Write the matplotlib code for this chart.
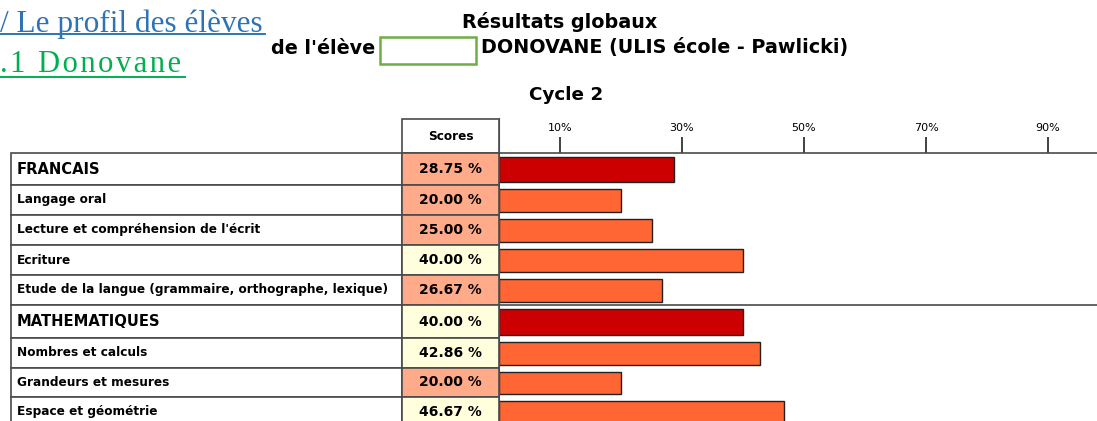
import matplotlib.pyplot as plt
from matplotlib.patches import Rectangle

plt.rcParams['font.family'] = ['DejaVu Sans']

# data
labels = ["FRANCAIS", "Langage oral", "Lecture et compréhension de l'écrit", "Ecriture",
          "Etude de la langue (grammaire, orthographe, lexique)", "MATHEMATIQUES",
          "Nombres et calculs", "Grandeurs et mesures", "Espace et géométrie"]
scores = [28.75, 20.00, 25.00, 40.00, 26.67, 40.00, 42.86, 20.00, 46.67]
is_section = [True, False, False, False, False, True, False, False, False]
tick_vals = [10, 30, 50, 70, 90]
tick_labels = ["10%", "30%", "50%", "70%", "90%"]

# layout (pixels)
W, H = 1097, 421
row_edges = [153, 185, 215, 245, 275, 305, 338, 368, 397, 427]
x_left, x_score, x_bar = 11, 402, 499
px_per_pct = 6.1
grid = '#4a4a4a'

fig = plt.figure(figsize=(W / 100, H / 100), dpi=100)
ax = fig.add_axes([0, 0, 1, 1])
ax.set_xlim(0, W)
ax.set_ylim(H, 0)
ax.axis('off')

# headings on the left
serif = ['Liberation Serif', 'DejaVu Serif']
ax.text(0, 32, "/ Le profil des élèves", family=serif, fontsize=22.5,
        color='#2E74B5', va='baseline', ha='left')
ax.plot([0, 265], [34, 34], color='#2E74B5', lw=1.4)
ax.text(0, 72, "\u200a".join(".1 Donovane"), family=serif, fontsize=22,
        color='#00B050', va='baseline', ha='left')
ax.plot([0, 185], [77, 77], color='#00B050', lw=1.4)

# titles
ax.text(560, 22, "Résultats globaux", fontsize=13.8, fontweight='bold', ha='center', va='center')
ax.text(375, 48, "de l'élève", fontsize=13.8, fontweight='bold', ha='right', va='center')
ax.add_patch(Rectangle((380, 37), 96, 27, fill=False, edgecolor='#70AD47', lw=1.8))
ax.text(481, 48, "DONOVANE (ULIS école - Pawlicki)", fontsize=13.8, fontweight='bold',
        ha='left', va='center')
ax.text(566, 95, "Cycle 2", fontsize=13.2, fontweight='bold', ha='center', va='center')

# header cell
ax.add_patch(Rectangle((x_score, 119), x_bar - x_score, row_edges[0] - 119,
                       facecolor='white', edgecolor=grid, lw=1.2))
ax.text((x_score + x_bar) / 2, 136, "Scores", fontsize=8.7, fontweight='bold',
        ha='center', va='center')

# table rows
for i, (lab, sc, sec) in enumerate(zip(labels, scores, is_section)):
    top, bot = row_edges[i], row_edges[i + 1]
    ax.add_patch(Rectangle((x_left, top), x_score - x_left, bot - top,
                           facecolor='white', edgecolor=grid, lw=1.2))
    cell = '#FFAA88' if sc < 35 else '#FFFFDD'
    ax.add_patch(Rectangle((x_score, top), x_bar - x_score, bot - top,
                           facecolor=cell, edgecolor=grid, lw=1.2))
    ax.text(17, (top + bot) / 2, lab, fontsize=10.6 if sec else 8.7, fontweight='bold',
            ha='left', va='center')
    ax.text((x_score + x_bar) / 2, (top + bot) / 2, f"{sc:.2f} %",
            fontsize=10, fontweight='bold', ha='center', va='center')

# bar axes, percentage scale on x, pixel rows on y
bx = fig.add_axes([x_bar / W, 0, (W - x_bar) / W, 1])
bx.set_xlim(0, (W - x_bar) / px_per_pct)
bx.set_ylim(H, 0)
bx.patch.set_alpha(0)
for s in ['left', 'right', 'bottom']:
    bx.spines[s].set_visible(False)
bx.spines['top'].set_position(('data', row_edges[0]))
bx.spines['top'].set_color(grid)
bx.spines['top'].set_linewidth(1.2)
bx.xaxis.tick_top()
bx.set_xticks(tick_vals)
bx.set_xticklabels(tick_labels)
bx.tick_params(axis='x', direction='out', length=11.5, width=1.3, color='#333333',
               labelsize=8, pad=3)
bx.set_yticks([])

centers = [(row_edges[i] + row_edges[i + 1]) / 2 for i in range(len(scores))]
heights = [row_edges[i + 1] - row_edges[i] - 7 for i in range(len(scores))]
colors = ['#CC0000' if s else '#FF6633' for s in is_section]
bx.barh(centers, scores, height=heights, color=colors, edgecolor='#222222', lw=1)
bx.axhline(row_edges[5], color=grid, lw=1.2)
bx.axvline(0, ymin=0, ymax=1 - 119 / H, color=grid, lw=1.5)

fig.savefig("out.png", dpi=100)
